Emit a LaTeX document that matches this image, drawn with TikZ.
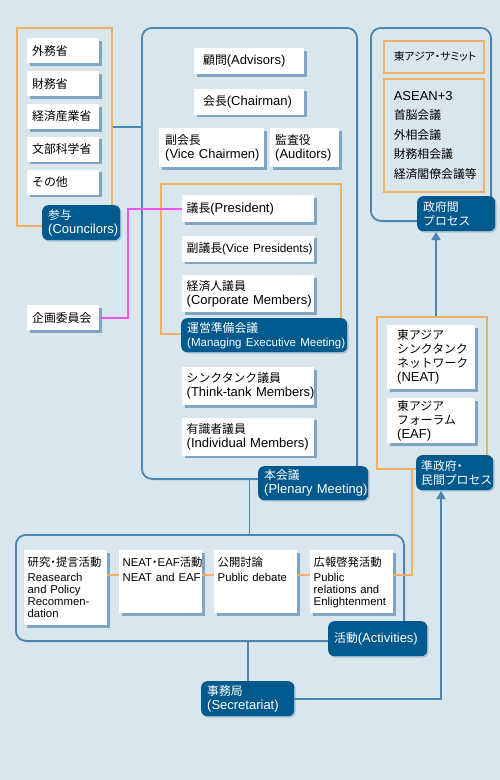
\documentclass[tikz,border=0pt]{standalone}
\usepackage{fontspec}
\setmainfont{Liberation Sans}[Scale=1.13]
\newfontfamily\jpfont{Noto Sans CJK JP}[Scale=1.03, RawFeature=+halt]
\newfontfamily\jppalt{Noto Sans CJK JP}[Scale=1.03, RawFeature=+palt]
\newfontfamily\actlatin{Liberation Sans}[Scale=1.03]
\usepackage{xcolor}
\usetikzlibrary{shapes,arrows.meta,positioning,shadows}

% Japanese runs in Noto, the rest in Liberation Sans
\newcommand{\jpswitch}{\jpfont}
\newcommand{\latinswitch}{\rmfamily}
\newXeTeXintercharclass\jpclass
\count255="3000
\loop
  \XeTeXcharclass\count255=\jpclass
  \ifnum\count255<"9FFF \advance\count255 by 1 \repeat
\count255="FF00
\loop
  \XeTeXcharclass\count255=\jpclass
  \ifnum\count255<"FFEF \advance\count255 by 1 \repeat
\XeTeXinterchartoks 0 \jpclass = {\jpswitch}
\XeTeXinterchartoks 4095 \jpclass = {\jpswitch}
\XeTeXinterchartoks \jpclass 0 = {\latinswitch}
\XeTeXinterchartoks \jpclass 4095 = {\latinswitch}
\XeTeXinterchartokenstate=1
\hyphenpenalty=10000
\exhyphenpenalty=10000

\definecolor{bgblue}{RGB}{218,230,238}
\definecolor{lineblue}{RGB}{74,134,177}
\definecolor{frameshadow}{RGB}{188,208,222}
\definecolor{tagblue}{RGB}{0,90,142}
\definecolor{boxshadow}{RGB}{98,144,178}
\definecolor{orangeline}{RGB}{240,178,98}
\definecolor{pinkline}{RGB}{238,84,238}

\newcommand{\boxfont}{\fontsize{11.5pt}{14pt}\selectfont}
\newcommand{\listfont}{\fontsize{11.5pt}{19.5pt}\selectfont}
\newcommand{\actfont}{\fontsize{11pt}{12pt}\selectfont\let\latinswitch\actlatin\actlatin}
\newcommand{\squeeze}{\fontsize{10.4pt}{14pt}\selectfont}

\begin{document}
\begin{tikzpicture}[x=1pt, y=-1pt,
        frame/.style={rectangle, draw=lineblue, line width=1.8pt, rounded corners=10pt, fill=bgblue, anchor=north west, drop shadow={shadow xshift=2pt, shadow yshift=-2pt, fill=frameshadow}},
        obox/.style={rectangle, draw=orangeline, line width=1.6pt, anchor=north west},
        wbox/.style={rectangle, fill=white, anchor=north west, inner xsep=4.5pt, inner ysep=0pt, align=left, font=\boxfont, drop shadow={shadow xshift=2.5pt, shadow yshift=-2.5pt, fill=boxshadow, opacity=0.75}},
        minbox/.style={wbox, inner xsep=5pt, text width=62pt, minimum height=25pt},
        actbox/.style={wbox, inner xsep=3.5pt, inner ysep=7pt, text width=76pt, text height=9pt, font=\actfont},
        tag/.style={rectangle, fill=tagblue, text=white, rounded corners=6pt, anchor=north west, inner xsep=6pt, inner ysep=0pt, align=left, font=\boxfont, drop shadow={shadow xshift=1.5pt, shadow yshift=-1.5pt, fill=boxshadow, opacity=0.4}},
        bline/.style={draw=lineblue, line width=1.8pt},
        oline/.style={draw=orangeline, line width=1.6pt},
        pline/.style={draw=pinkline, line width=1.6pt},
        arrow/.style={bline, -{Triangle[length=8pt, width=9pt]}}
    ]

    % Background
    \path[fill=bgblue, use as bounding box] (0,0) rectangle (500,780);

    % Frames
    \node[obox, minimum width=95pt, minimum height=198pt] (sanyo) at (16,27) {};
    \node[frame, minimum width=215pt, minimum height=451pt] (honkai) at (141,27) {};
    \node[frame, minimum width=120pt, minimum height=193pt] (seifu) at (370,27) {};
    \node[frame, minimum width=388pt, minimum height=106pt] (katsudo) at (15,534) {};
    \node[obox, minimum width=180pt, minimum height=150pt] (unei) at (160,183) {};
    \node[obox, minimum width=110pt, minimum height=152pt] (minkan) at (376,316) {};

    % Councilors
    \node[minbox] (gaimu) at (27,38) {外務省};
    \node[minbox, below=7.5pt of gaimu] (zaimu) {財務省};
    \node[minbox, below=7.5pt of zaimu] (keisan) {経済産業省};
    \node[minbox, below=7.5pt of keisan] (monka) {文部科学省};
    \node[minbox, below=7.5pt of monka] (sonota) {その他};
    \node[tag, text width=66pt, minimum height=35pt] (sanyotag) at (42,205) {参与\\(Councilors)};

    % Planning committee
    \node[minbox] (kikaku) at (27,305) {企画委員会};

    % Plenary Meeting
    \node[wbox, inner xsep=9pt, text width=92pt, minimum height=26pt] (komon) at (194,48) {顧問(Advisors)};
    \node[wbox, inner xsep=9pt, text width=92pt, minimum height=26pt, below=14pt of komon] (kaicho) {会長(Chairman)};
    \node[wbox, inner xsep=6pt, text width=93pt, minimum height=39pt] (fuku) at (159,128) {副会長\\(Vice~Chairmen)};
    \node[wbox, inner xsep=5pt, text width=59pt, minimum height=39pt] (kansa) at (270,128) {監査役\\(Auditors)};

    % Managing Executive Meeting
    \node[wbox, text width=123pt, minimum height=27pt] (gicho) at (182,195) {議長(President)};
    \node[wbox, text width=123pt, minimum height=26pt, below=13pt of gicho] (fukugi) {副議長{\squeeze(Vice~Presidents)}};
    \node[wbox, text width=123pt, minimum height=37pt, below=13pt of fukugi] (keizai) {経済人議員\\(Corporate~Members)};
    \node[tag, text width=154pt, minimum height=34pt] (ueitag) at (181,318) {運営準備会議\\{\fontsize{10.2pt}{14pt}\selectfont(Managing~Executive~Meeting)}};

    \node[wbox, text width=123pt, minimum height=38pt] (think) at (182,367) {シンクタンク議員\\(Think-tank~Members)};
    \node[wbox, text width=123pt, minimum height=38pt, below=12pt of think] (yushiki) {有識者議員\\(Individual~Members)};
    \node[tag, text width=98pt, minimum height=34pt] (honkaitag) at (258,466) {本会議\\(Plenary~Meeting)};

    % Intergovernmental process
    \node[obox, inner xsep=10pt, text width=80pt, minimum height=32pt, align=left, font=\fontsize{10.5pt}{14pt}\selectfont\let\jpswitch\jppalt] (summit) at (383,40) {東アジア・サミット};
    \node[obox, inner xsep=10pt, text width=80pt, minimum height=113pt, align=left, font=\listfont] (asean) at (383,78) {ASEAN+3\\首脳会議\\外相会議\\財務相会議\\経済閣僚会議等};
    \node[tag, text width=66pt, minimum height=35pt] (seitag) at (417,196) {政府間\\プロセス};

    % Semi-governmental and private process
    \node[wbox, inner xsep=10pt, text width=68pt, minimum height=64pt] (neat) at (387,325) {東アジア\\シンクタンク\\ネットワーク\\(NEAT)};
    \node[wbox, inner xsep=10pt, text width=68pt, minimum height=45pt] (eaf) at (387,398) {東アジア\\フォーラム\\(EAF)};
    \node[tag, inner xsep=5pt, text width=67pt, minimum height=35pt] (mintag) at (416,455) {準政府・\\民間プロセス};

    % Activities
    \node[actbox, text depth=52pt] (kenkyu) at (24,550) {研究・提言活動\\[3pt]Reasearch\\and~Policy\\Recommen-\\dation};
    \node[actbox, text depth=40pt] (neatact) at (119,550) {NEAT・EAF活動\\[3pt]NEAT~and~EAF};
    \node[actbox, text depth=40pt] (kokai) at (214,550) {公開討論\\[3pt]Public~debate};
    \node[actbox, text depth=40pt] (koho) at (310,550) {広報啓発活動\\[3pt]Public\\relations~and\\Enlightenment};
    \node[tag, text width=87pt, minimum height=35pt] (katsudotag) at (328,621) {活動(Activities)};

    % Secretariat
    \node[tag, text width=81pt, minimum height=35pt] (jimu) at (201,681) {事務局\\(Secretariat)};

    % Connectors
    \draw[bline] (sanyo.east) -- (sanyo.east -| honkai.west);
    \draw[bline] (honkai.south) -- (honkai.south |- katsudo.north);
    \draw[bline] (jimu.north) -- (jimu.north |- katsudo.south);

    \coordinate (pk) at (128,318);
    \draw[pline] (kikaku.east) -- (kikaku.east -| pk) |- (gicho.west);

    \coordinate (oy) at (0,575);
    \coordinate (oc) at (412,575);
    \draw[oline] (kenkyu.east |- oy) -- (neatact.west |- oy);
    \draw[oline] (neatact.east |- oy) -- (kokai.west |- oy);
    \draw[oline] (kokai.east |- oy) -- (koho.west |- oy);
    \draw[oline] (koho.east |- oy) -- (oc) -- (oc |- minkan.south);

    \coordinate (seiin) at (436,232);
    \draw[arrow] (seiin |- minkan.north) -- (seiin);
    \coordinate (minin) at (441,491);
    \draw[arrow] (jimu.east) -| (minin);

\end{tikzpicture}
\end{document}
